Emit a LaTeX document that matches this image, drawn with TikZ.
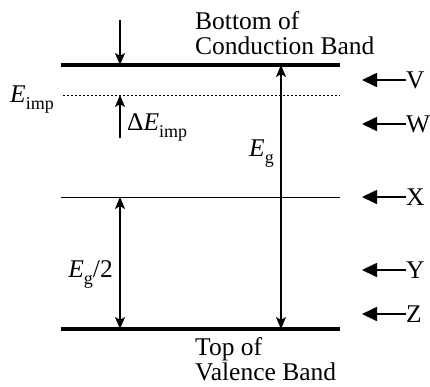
\documentclass[tikz,border=0pt]{standalone}
\usepackage{fontspec}
\setmainfont{Liberation Serif}
\usetikzlibrary{arrows.meta}
\newcommand\lowsub[1]{\raisebox{-0.28em}{\fontsize{18}{18}\selectfont #1}}
\begin{document}
\begin{tikzpicture}[x=1pt,y=-1pt,
  lbl/.style={inner sep=0pt,font=\fontsize{25.5}{25}\selectfont},
  band/.style={line width=3.5pt},
  dim/.style={line width=1.5pt,-{Stealth[length=12pt,width=10pt,inset=3pt]}},
  ddim/.style={line width=1.5pt,{Stealth[length=12pt,width=10pt,inset=3pt]}-{Stealth[length=12pt,width=10pt,inset=3pt]}},
  sidearr/.style={line width=1.7pt,-{Triangle[length=15pt,width=14pt]}}]
\useasboundingbox (0,0) rectangle (430,386);
% levels
\coordinate (cbL) at (61,65);  \coordinate (cbR) at (340,65);
\coordinate (imL) at (63,95);  \coordinate (imR) at (340,95);
\coordinate (xL) at (61,197);  \coordinate (xR) at (340,197);
\coordinate (vbL) at (61,329); \coordinate (vbR) at (340,329);
\draw[band] (cbL) -- (cbR);
\draw[band] (vbL) -- (vbR);
\draw[line width=0.9pt] (xL) -- (xR);
\draw[line width=0.8pt,dash pattern=on 2pt off 2pt] (imL) -- (imR);
% arrows
\coordinate (a0) at (120,20);  \coordinate (a1) at (120,65);
\draw[dim] (a0) -- (a1);
\coordinate (d0) at (120,138); \coordinate (d1) at (120,95);
\draw[dim] (d0) -- (d1);
\coordinate (h0) at (120,197); \coordinate (h1) at (120,329);
\draw[ddim] (h0) -- (h1);
\coordinate (g0) at (281,65); \coordinate (g1) at (281,329);
\draw[ddim] (g0) -- (g1);
% labels
\node[lbl,anchor=base west] (t1) at (195,29) {Bottom of};
\node[lbl,anchor=base west] (t2) at (195,54) {Conduction Band};
\node[lbl,anchor=base west] (t3) at (195,355) {Top of};
\node[lbl,anchor=base west] (t4) at (195,380) {Valence Band};
\node[lbl,anchor=base east] (eimp) at (54,102) {\textit{E}\lowsub{imp}};
\node[lbl,anchor=base west] (deimp) at (127,130) {Δ\textit{E}\lowsub{imp}};
\node[lbl,anchor=base east] (eg) at (274,156) {\textit{E}\lowsub{g}};
\node[lbl,anchor=base east] (eg2) at (113,277) {\textit{E}\lowsub{g}/2};
% side markers
\foreach \n/\y in {V/80,W/124,X/197,Y/270,Z/314}{
  \node[lbl,anchor=west] (m\n) at (406,\y) {\n};
  \coordinate (s\n) at (362,\y);
  \draw[sidearr] (m\n.west) -- (s\n);
}
\end{tikzpicture}
\end{document}
